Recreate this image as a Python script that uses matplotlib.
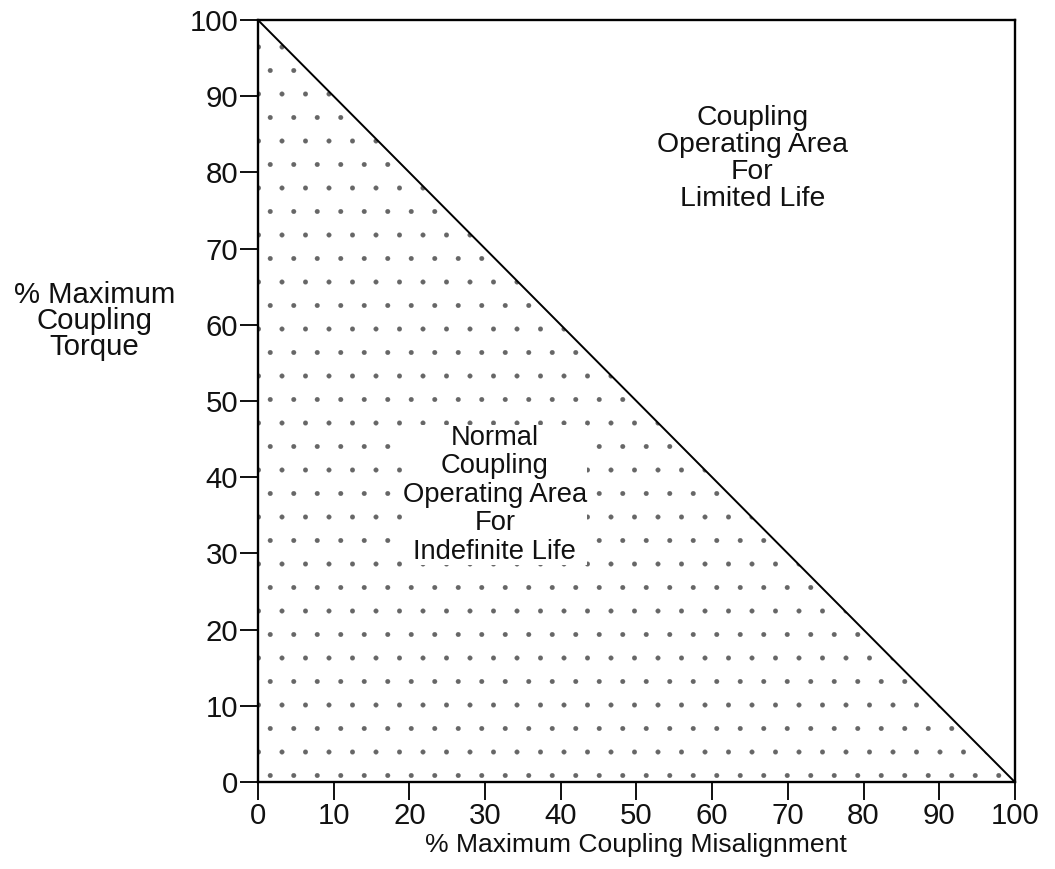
import matplotlib
matplotlib.use('Agg')
import matplotlib.pyplot as plt
import numpy as np

# boundary line between the two operating areas
misalign = [0, 100]
torque = [100, 0]
ticks = list(range(0, 101, 10))

plt.rcParams['font.family'] = ['Liberation Sans', 'DejaVu Sans']
plt.rcParams['hatch.linewidth'] = 0.1
plt.rcParams['hatch.color'] = '#666666'

dpi = 141
fig = plt.figure(figsize=(1055 / dpi, 869 / dpi), dpi=dpi)
ax = fig.add_axes([0.2445, 0.1, 0.7175, 0.877])

ax.fill_between(misalign, [0, 0], torque, facecolor='white', edgecolor='#666666',
                hatch='.', linewidth=0)
ax.plot(misalign, torque, color='black', lw=1.0)

ax.set_xlim(0, 100)
ax.set_ylim(0, 100)
ax.set_xticks(ticks)
ax.set_yticks(ticks)
ax.tick_params(direction='out', length=9, width=1.0, labelsize=15, pad=1, colors='#111111')
for s in ax.spines.values():
    s.set_linewidth(1.2)

ax.text(-0.216, 0.605, '% Maximum\nCoupling\nTorque', transform=ax.transAxes,
        ha='center', va='center', fontsize=15, linespacing=0.9, color='#111111')
ax.text(0.5, -0.083, '% Maximum Coupling Misalignment', transform=ax.transAxes,
        ha='center', va='center', fontsize=13.5, color='#111111')

ax.text(65.3, 81.8, 'Coupling\nOperating Area\nFor\nLimited Life',
        ha='center', va='center', fontsize=14.5, linespacing=1.05, color='#111111')
ax.text(31.3, 37.7, 'Normal\nCoupling\nOperating Area\nFor\nIndefinite Life',
        ha='center', va='center', fontsize=14, linespacing=1.12, color='#111111',
        bbox=dict(facecolor='white', edgecolor='none', pad=0))

fig.savefig('out.png', dpi=dpi)
